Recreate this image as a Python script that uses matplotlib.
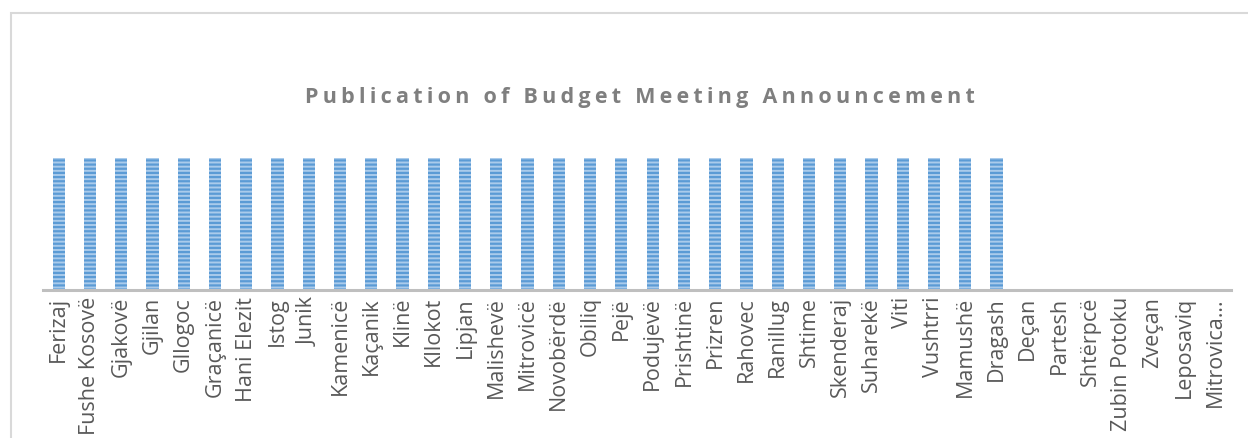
import matplotlib
matplotlib.use("Agg")
import matplotlib.pyplot as plt
from matplotlib.patches import Rectangle

categories = ["Ferizaj", "Fushe Kosovë", "Gjakovë", "Gjilan", "Gllogoc", "Graçanicë",
              "Hani Elezit", "Istog", "Junik", "Kamenicë", "Kaçanik", "Klinë", "Kllokot",
              "Lipjan", "Malishevë", "Mitrovicë", "Novobërdë", "Obiliq", "Pejë", "Podujevë",
              "Prishtinë", "Prizren", "Rahovec", "Ranillug", "Shtime", "Skenderaj",
              "Suharekë", "Viti", "Vushtrri", "Mamushë", "Dragash", "Deçan", "Partesh",
              "Shtërpcë", "Zubin Potoku", "Zveçan", "Leposaviq", "Mitrovica…"]
values = [1] * 31 + [0] * 7
title = "Publication of Budget Meeting Announcement"

plt.rcParams['font.family'] = ['Open Sans', 'DejaVu Sans']
plt.rcParams['hatch.linewidth'] = 1.6

W, H = 1248, 438
fig = plt.figure(figsize=(W / 100, H / 100), dpi=100)

# outer chart frame
fig.patches.append(Rectangle((11 / W, -0.1), 1.2, 1 - 13 / H + 0.1, transform=fig.transFigure,
                             fill=False, edgecolor='#d9d9d9', linewidth=1.5, zorder=0))

ax_left, ax_right = 43 / W, 1231 / W
ax_bottom, ax_top = 1 - 290 / H, 1 - 158 / H
ax = fig.add_axes([ax_left, ax_bottom, ax_right - ax_left, ax_top - ax_bottom])
ax.patch.set_alpha(0)

x = range(len(categories))
ax.bar(x, values, width=0.39, facecolor='#aacbeb', edgecolor='#5b9bd5', linewidth=0,
       hatch='----', zorder=2)
ax.set_xlim(-0.5, len(categories) - 0.5)
ax.set_ylim(0, 1)

for s in ['top', 'left', 'right']:
    ax.spines[s].set_visible(False)
ax.spines['bottom'].set_color('#bfbfbf')
ax.spines['bottom'].set_linewidth(2.2)
ax.set_yticks([])
ax.set_xticks(list(x))
ax.set_xticklabels(categories, rotation=90, fontsize=15.5, color='#595959')
ax.tick_params(axis='x', length=0, pad=5)

spaced = "\u2009".join(title)
fig.text(640 / W, 1 - 97 / H, spaced, ha='center', va='center', fontsize=15.5,
         fontweight='bold', color='#7f7f7f')

fig.savefig("out.png", dpi=100)
